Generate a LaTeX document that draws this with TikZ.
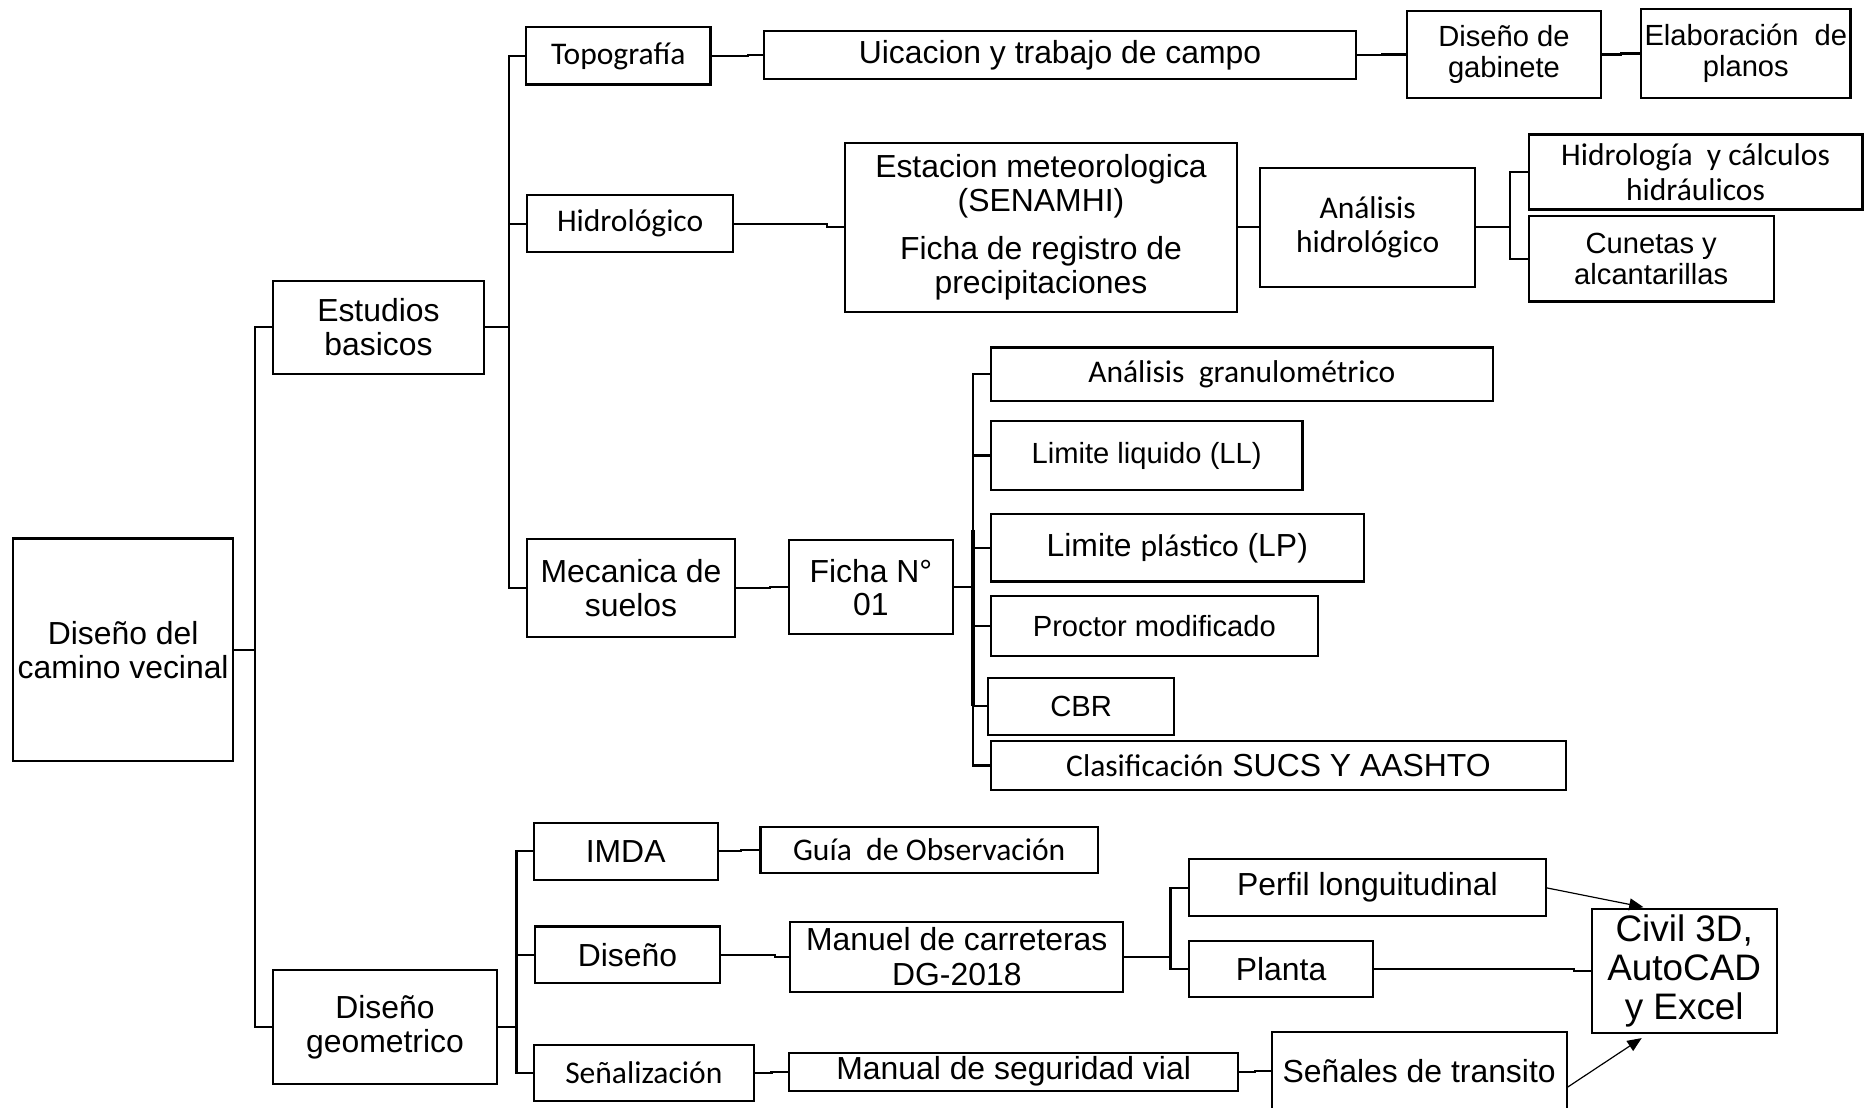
\documentclass[tikz,border=0pt]{standalone}
\usepackage{fontspec}
\setmainfont{Liberation Sans}
\newfontfamily\carl{Carlito}
\usetikzlibrary{arrows.meta,calc}
\newcommand\fA{\fontsize{26.8}{29}\selectfont}
\newcommand\fS{\fontsize{24.5}{26}\selectfont}
\newcommand\fC{\carl\fontsize{26.5}{29}\selectfont}
\newcommand\fB{\fontsize{31}{32.5}\selectfont}
\newcommand\mybox[7][]{\node[box,#1,minimum width={(#5)-(#3)},minimum height={(#6)-(#4)}] (#2) at ({((#3)+(#5))/2},{((#4)+(#6))/2}) {#7};}
\newcommand\conn[3]{\draw[cn] (#1.east) -| ($(#1.east)!#3!(#2.west)$) |- (#2.west);}
\tikzset{
  box/.style={draw, line width=1.8pt, inner sep=0pt, outer sep=0pt, align=center, font=\fA},
  cn/.style={line width=1.8pt},
  arr/.style={line width=1pt, -{Triangle[length=12pt,width=10pt]}}
}
\begin{document}
\begin{tikzpicture}[x=1pt,y=-1pt]
\useasboundingbox (0,0) rectangle (1568,931);
\clip (0,0) rectangle (1568,931);
% level 0/1
\mybox{root}{11}{452.5}{196}{639.7}{Diseño del\\camino vecinal}
\mybox{eb}{229.5}{236}{406.5}{314}{Estudios\\basicos}
\mybox{dg}{229.5}{815}{417.5}{911.2}{Diseño\\geometrico}
% estudios basicos
\mybox[font=\fC]{topo}{442}{23}{597}{71}{Topografía}
\mybox{uica}{642}{26}{1139.5}{66.5}{Uicacion y trabajo de campo}
\mybox[font=\fS]{gab}{1182.5}{9}{1345}{82.5}{Diseño de\\gabinete}
\mybox[font=\fS]{elab}{1379}{7.4}{1555}{82.5}{Elaboración\ \ de\\planos}
\mybox[font=\fC]{hidro}{443}{164}{616}{212}{Hidrológico}
\mybox{esta}{710}{120}{1039.5}{262}{Estacion meteorologica\\(SENAMHI)\\[11pt]Ficha de registro de\\precipitaciones}
\mybox[font=\fC]{anh}{1059}{141}{1239.5}{241}{Análisis\\hidrológico}
\mybox[font=\fC]{hcal}{1284.5}{113}{1565}{176}{Hidrología\ \ y cálculos\\hidráulicos}
\mybox[font=\fS]{cun}{1284.5}{181.6}{1490.5}{253.4}{Cunetas y\\alcantarillas}
\mybox{mec}{443}{453}{617.5}{535}{Mecanica de\\suelos}
\mybox[font={\fontsize{26.8}{28}\selectfont}]{ficha}{663}{454}{800.5}{533}{Ficha N°\\01}
\mybox[font=\fC]{gran}{832.5}{292}{1254.5}{337}{Análisis\ \ granulométrico}
\mybox[font=\fS]{ll}{832.5}{354}{1094.5}{411.6}{Limite liquido (LL)}
\mybox{lp}{832.5}{432}{1146}{488.6}{Limite {\fC plástico} (LP)}
\mybox[font=\fS]{proc}{832.5}{500.5}{1107.5}{551.3}{Proctor modificado}
\mybox[font=\fS]{cbr}{830.5}{569.7}{986.5}{617.4}{CBR}
\mybox{clas}{832.5}{622.8}{1316}{663.7}{{\fC Clasificación} SUCS Y AASHTO}
% diseño geometrico
\mybox{imda}{448.5}{691.6}{603}{739.1}{IMDA}
\mybox[font=\fC]{guia}{639}{695}{922.5}{733.5}{Guía\ \ {\fA de} Observación}
\mybox{dis}{449.5}{778.5}{605}{826}{Diseño}
\mybox{manc}{664}{774.4}{944}{833.5}{Manuel de carreteras\\DG-2018}
\mybox{perf}{999}{721.9}{1299}{770}{Perfil longuitudinal}
\mybox{plan}{999}{790.7}{1154}{838}{Planta}
\mybox[font=\fB]{civ}{1337.5}{763.8}{1493}{867.8}{Civil 3D,\\AutoCAD\\y Excel}
\mybox[font=\fC]{senz}{448.5}{878}{633.5}{925}{Señalización}
\mybox{msv}{663}{884.5}{1040.5}{916.5}{Manual de seguridad vial}
\mybox{sent}{1068.5}{867}{1316.5}{933}{Señales de transito}
% trunk connectors
\coordinate (t1) at ($(eb.west)+(-15,0)$);
\draw[cn] (eb.west) -- (t1) |- (dg.west);
\draw[cn] (root.east) -- (root.east -| t1);
\coordinate (t2) at ($(topo.west)+(-14.5,0)$);
\draw[cn] (topo.west) -- (t2) |- (mec.west);
\draw[cn] (hidro.west) -- (hidro.west -| t2);
\draw[cn] (eb.east) -- (eb.east -| t2);
\coordinate (t3) at ($(hcal.west)+(-15.5,0)$);
\draw[cn] (hcal.west) -- (t3) |- (cun.west);
\draw[cn] (anh.east) -- (anh.east -| t3);
\coordinate (t4) at ($(gran.west)+(-15,0)$);
\draw[cn] (gran.west) -- (t4) |- (clas.west);
\foreach \n in {ll,lp,proc,cbr} {\draw[cn] (\n.west) -- (\n.west -| t4);}
\draw[cn] (ficha.east) -- (ficha.east -| t4);
\draw[line width=4pt] ($(t4 |- lp.west)+(0,-15)$) -- (t4 |- cbr.west);
\coordinate (t5) at ($(imda.west)+(-14.5,0)$);
\draw[cn] (imda.west) -- (t5) |- (senz.west);
\draw[cn] (dis.west) -- (dis.west -| t5);
\draw[cn] (dg.east) -- (dg.east -| t5);
\coordinate (t6) at ($(perf.west)+(-15.5,0)$);
\draw[cn] (perf.west) -- (t6) |- (plan.west);
\draw[cn] (manc.east) -- (manc.east -| t6);
% chain connectors
\conn{topo}{uica}{0.7}
\conn{uica}{gab}{0.5}
\conn{gab}{elab}{0.5}
\conn{hidro}{esta}{0.84}
\conn{esta}{anh}{0.5}
\conn{mec}{ficha}{0.65}
\conn{imda}{guia}{0.55}
\conn{dis}{manc}{0.78}
\conn{senz}{msv}{0.5}
\conn{msv}{sent}{0.5}
\conn{plan}{civ}{0.92}
% arrows
\draw[arr] (perf.east) -- ($(civ.north west)+(43.5,-1.5)$);
\draw[arr] ($(sent.north east)+(0,47)$) -- ($(civ.south west)+(42,4.5)$);
\end{tikzpicture}
\end{document}
